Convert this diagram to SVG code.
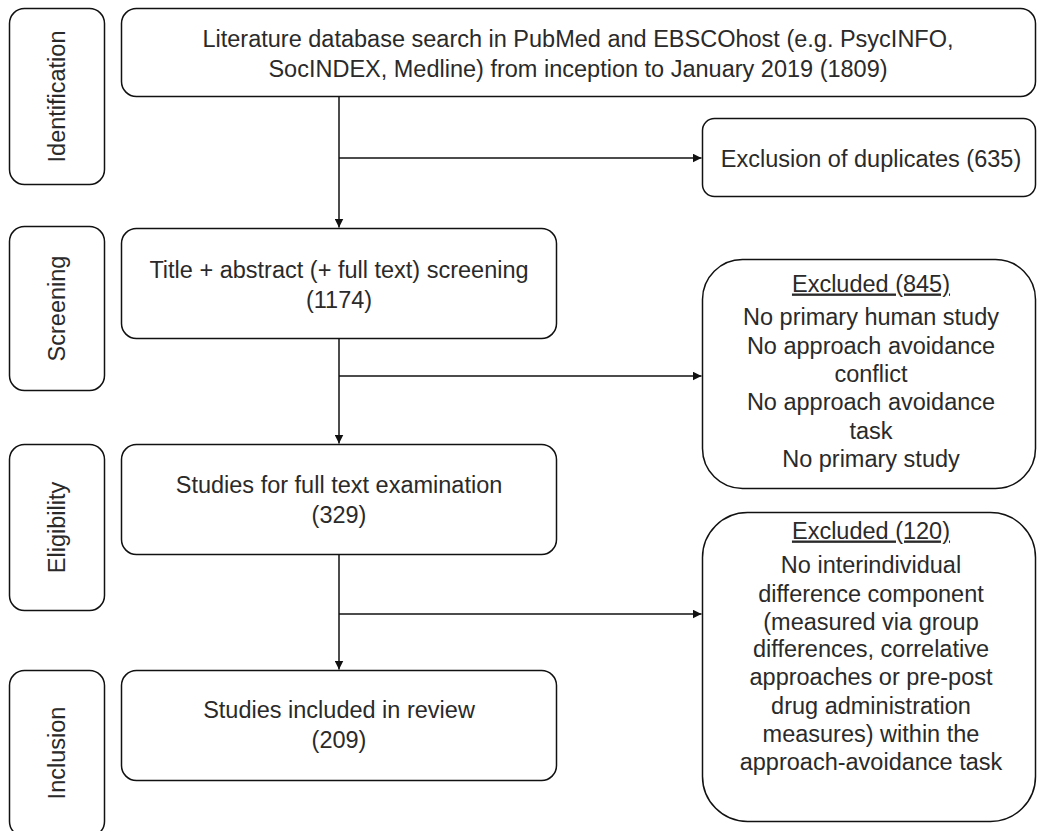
<svg xmlns="http://www.w3.org/2000/svg" width="1038" height="831" viewBox="0 0 1038 831">
<style>
.box{fill:#fff;stroke:#111;stroke-width:1.5}
.t{font-family:"Liberation Sans",Arial,sans-serif;font-size:23.5px;fill:#2a2a2a;text-anchor:middle}
.c{fill:none;stroke:#111;stroke-width:1.5}
.u{text-decoration:underline}
</style>
<defs>
<marker id="ah" viewBox="0 0 10 10" refX="10" refY="5" markerWidth="6" markerHeight="6" orient="auto" markerUnits="strokeWidth">
<path d="M0,0 L10,5 L0,10 z" fill="#111"/>
</marker>
</defs>
<rect width="1038" height="831" fill="#fff"/>

<g id="lbl-identification">
<rect class="box" x="9.5" y="8.5" width="95" height="176" rx="15"/>
<text class="t" transform="translate(65,96.5) rotate(-90)">Identification</text>
</g>
<g id="lbl-screening">
<rect class="box" x="9.5" y="226.5" width="95" height="164" rx="15"/>
<text class="t" transform="translate(65,308.5) rotate(-90)">Screening</text>
</g>
<g id="lbl-eligibility">
<rect class="box" x="9.5" y="444.5" width="95" height="166" rx="15"/>
<text class="t" transform="translate(65,527.5) rotate(-90)">Eligibility</text>
</g>
<g id="lbl-inclusion">
<rect class="box" x="9.5" y="670.5" width="95" height="166" rx="15"/>
<text class="t" transform="translate(65,753) rotate(-90)">Inclusion</text>
</g>

<g id="search">
<rect class="box" x="121.5" y="8.5" width="914" height="88" rx="15"/>
<text class="t" x="578" y="47">Literature database search in PubMed and EBSCOhost (e.g. PsycINFO,</text>
<text class="t" x="578" y="77">SocINDEX, Medline) from inception to January 2019 (1809)</text>
</g>
<g id="duplicates">
<rect class="box" x="702.5" y="118.5" width="333" height="78" rx="12"/>
<text class="t" x="871" y="167">Exclusion of duplicates (635)</text>
</g>
<g id="screening">
<rect class="box" x="121.5" y="228.5" width="435" height="110" rx="15"/>
<text class="t" x="339" y="278">Title + abstract (+ full text) screening</text>
<text class="t" x="339" y="308">(1174)</text>
</g>
<g id="excluded845">
<rect class="box" x="702.5" y="259.5" width="333" height="229" rx="40"/>
<text class="t u" x="871" y="291.5">Excluded (845)</text>
<text class="t" x="871" y="325">No primary human study</text>
<text class="t" x="871" y="353.5">No approach avoidance</text>
<text class="t" x="871" y="382">conflict</text>
<text class="t" x="871" y="410">No approach avoidance</text>
<text class="t" x="871" y="438.5">task</text>
<text class="t" x="871" y="467">No primary study</text>
</g>
<g id="eligibility">
<rect class="box" x="121.5" y="444.5" width="435" height="110" rx="15"/>
<text class="t" x="339" y="493">Studies for full text examination</text>
<text class="t" x="339" y="523">(329)</text>
</g>
<g id="excluded120">
<rect class="box" x="702.5" y="512.5" width="333" height="309" rx="45"/>
<text class="t u" x="871" y="538.5">Excluded (120)</text>
<text class="t" x="871" y="573">No interindividual</text>
<text class="t" x="871" y="601.5">difference component</text>
<text class="t" x="871" y="629.5">(measured via group</text>
<text class="t" x="871" y="657">differences, correlative</text>
<text class="t" x="871" y="685">approaches or pre-post</text>
<text class="t" x="871" y="713.5">drug administration</text>
<text class="t" x="871" y="742">measures) within the</text>
<text class="t" x="871" y="770">approach-avoidance task</text>
</g>
<g id="inclusion">
<rect class="box" x="121.5" y="670.5" width="435" height="110" rx="15"/>
<text class="t" x="339" y="718">Studies included in review</text>
<text class="t" x="339" y="748">(209)</text>
</g>

<g id="connectors">
<path class="c" d="M339,97 V227.5" marker-end="url(#ah)"/>
<path class="c" d="M339,158 H701.5" marker-end="url(#ah)"/>
<path class="c" d="M339,339 V443.5" marker-end="url(#ah)"/>
<path class="c" d="M339,376 H701.5" marker-end="url(#ah)"/>
<path class="c" d="M339,555 V669.5" marker-end="url(#ah)"/>
<path class="c" d="M339,614 H701.5" marker-end="url(#ah)"/>
</g>
</svg>
